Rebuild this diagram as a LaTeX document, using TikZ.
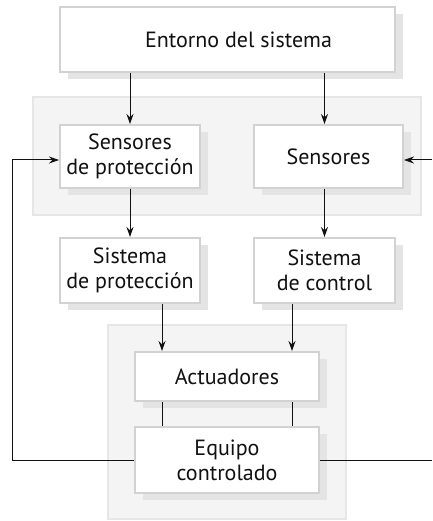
\documentclass[tikz,border=0pt]{standalone}
\usepackage{fontspec}
\setmainfont{PT Sans}
\usetikzlibrary{arrows.meta, shadows, calc}

\definecolor{boxline}{HTML}{D2D2D2}
\definecolor{boxshadow}{HTML}{E4E4E4}
\definecolor{groupfill}{HTML}{F4F4F4}
\definecolor{groupline}{HTML}{E6E6E6}
\definecolor{ink}{HTML}{111111}

\begin{document}
\begin{tikzpicture}[x=1pt, y=-1pt, >={Stealth[length=10pt,width=7pt]},
    block/.style={draw=boxline, line width=2pt, fill=white, align=center,
        text=ink, font=\fontsize{22}{25}\selectfont, inner sep=0pt,
        general shadow={fill=boxshadow, shadow xshift=8pt, shadow yshift=-7pt}},
    group/.style={draw=groupline, fill=groupfill, line width=2pt},
    link/.style={ink, line width=1pt}]
    \useasboundingbox (0,0) rectangle (432,521);

    % Background groups
    \draw[group] (33,97) rectangle (421,215);
    \draw[group] (108,325) rectangle (346,519);

    % Blocks
    \node[block, minimum width=335pt, minimum height=65pt] (entorno) at (227.5,39.5) {\hspace*{22pt}Entorno del sistema};
    \node[block, minimum width=140pt, minimum height=63pt] (sprot) at (130,156.5) {Sensores\\de protección};
    \node[block, minimum width=149pt, minimum height=63pt] (sens) at (328.5,156.5) {Sensores};
    \node[block, minimum width=140pt, minimum height=65pt] (sisprot) at (130,270.5) {Sistema\\de protección};
    \node[block, minimum width=141pt, minimum height=65pt] (sisctrl) at (324.5,270.5) {Sistema\\de control};
    \node[block, minimum width=184pt, minimum height=49pt] (act) at (227,376.5) {Actuadores};
    \node[block, minimum width=184pt, minimum height=66pt] (equipo) at (227,460) {Equipo\\controlado};

    % Connection points
    \coordinate (actL) at ([xshift=-65pt]act.north);
    \coordinate (actR) at ([xshift=65pt]act.north);
    \coordinate (eqL) at ([xshift=-65pt]equipo.north);
    \coordinate (eqR) at ([xshift=65pt]equipo.north);
    \coordinate (fbL) at (12,460);
    \coordinate (fbR) at (432,460);
    \coordinate (inR) at (432,160);

    % Signal flow
    \draw[link,->] (entorno.south -| sprot.north) -- (sprot.north);
    \draw[link,->] (entorno.south -| sisctrl.north) -- (sens.north -| sisctrl.north);
    \draw[link,->] (sprot.south) -- (sisprot.north);
    \draw[link,->] (sens.south -| sisctrl.north) -- (sisctrl.north);
    \draw[link,->] (sisprot.south -| actL) -- (actL);
    \draw[link,->] (sisctrl.south -| actR) -- (actR);
    \draw[link] (act.south -| eqL) -- (eqL);
    \draw[link] (act.south -| eqR) -- (eqR);

    % Feedback
    \draw[link,->] (equipo.west) -- (fbL) |- ([yshift=-3.5pt]sprot.west);
    \draw[link] (equipo.east) -- (fbR);
    \draw[link,->] (inR) -- (sens.east |- inR);
\end{tikzpicture}
\end{document}
